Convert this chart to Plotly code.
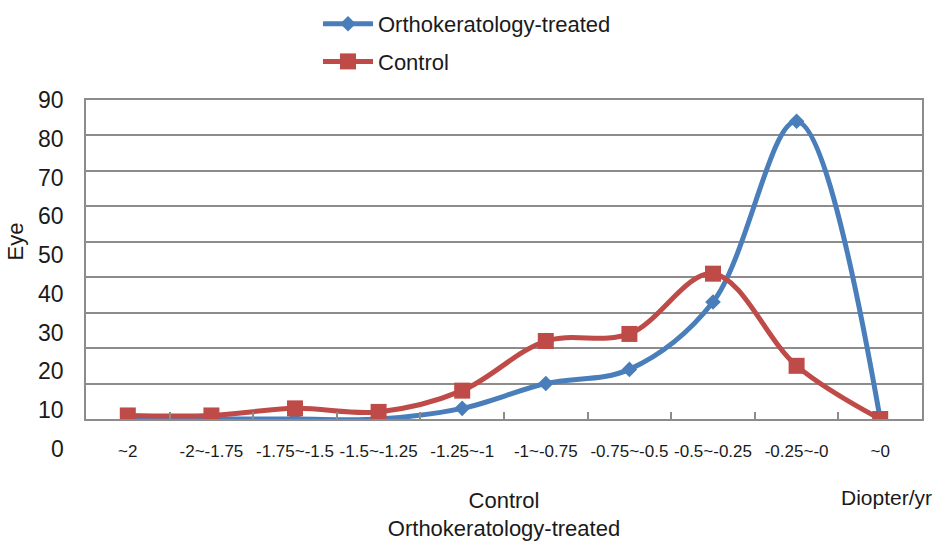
import plotly.graph_objects as go

categories = ["~2", "-2~-1.75", "-1.75~-1.5", "-1.5~-1.25", "-1.25~-1",
              "-1~-0.75", "-0.75~-0.5", "-0.5~-0.25", "-0.25~-0", "~0"]
ortho_values = [0, 0, 0, 0, 3, 10, 14, 33, 84, 0]
control_values = [1, 1, 3, 2, 8, 22, 24, 41, 15, 0]
y_tick_values = [0, 10, 20, 30, 40, 50, 60, 70, 80, 90]
y_tick_labels = ["0", "10", "20", "30", "40", "50", "60", "70", "80", "90"]

FONT = "Liberation Sans, Arial, sans-serif"
BLUE = "#4A7EBB"
RED = "#BE4B48"
GRID = "#8C8C8C"
TXT = "#1A1A1A"

W, H = 933, 550
ml, mr, mt, mb = 86, 11, 100, 101
plot_w = W - ml - mr
plot_h = H - mt - mb
data_bottom_px = 419
label_max = max(y_tick_values)

fig = go.Figure()
fig.add_trace(go.Scatter(
    x=categories, y=ortho_values, name="Orthokeratology-treated", legendgroup="a",
    mode="lines+markers", line=dict(color=BLUE, width=5, shape="spline", smoothing=1.0),
    marker=dict(symbol="diamond", size=12, color=BLUE)))
fig.add_trace(go.Scatter(
    x=categories, y=control_values, name="Control", legendgroup="b",
    mode="lines+markers", line=dict(color=RED, width=5, shape="spline", smoothing=1.0),
    marker=dict(symbol="square", size=16, color=RED)))

# y tick labels on their own (taller) scale spanning the full plot-area height
y_label_annotations = [
    dict(text=t, xref="paper", yref="paper", x=0, xshift=-20,
         y=v / label_max, xanchor="right", yanchor="middle", showarrow=False,
         font=dict(family=FONT, size=23, color=TXT))
    for v, t in zip(y_tick_values, y_tick_labels)
]

fig.update_layout(
    template="none",
    width=W, height=H,
    margin=dict(l=ml, r=mr, t=mt, b=mb, autoexpand=False),
    paper_bgcolor="white", plot_bgcolor="white",
    font=dict(family=FONT, color=TXT, size=20),
    showlegend=True,
    legend=dict(
        x=(318 - ml) / plot_w, xanchor="left",
        y=1 + (mt - 3) / plot_h, yanchor="top",
        font=dict(family=FONT, size=22, color=TXT),
        bgcolor="rgba(0,0,0,0)", itemwidth=50,
        traceorder="grouped", tracegroupgap=6,
    ),
    xaxis=dict(
        type="category", range=[-0.5, 9.5], anchor="y", automargin=False,
        showgrid=False, showline=True, mirror=True, linecolor=GRID, linewidth=2,
        ticks="inside", tickson="boundaries", ticklen=7, tickcolor=GRID, tickwidth=1.5,
        tickangle=0,
        tickfont=dict(family=FONT, size=17, color=TXT), ticklabelstandoff=16,
        title=dict(text="Control<br>Orthokeratology-treated",
                   font=dict(family=FONT, size=22, color=TXT), standoff=32),
    ),
    yaxis=dict(
        domain=[(H - mb - data_bottom_px) / plot_h, 1],
        range=[0, 90], dtick=10, anchor="x", automargin=False,
        showgrid=True, gridcolor=GRID, gridwidth=2,
        showline=True, mirror=True, linecolor=GRID, linewidth=2,
        zeroline=False, showticklabels=False, ticks="",
    ),
    annotations=y_label_annotations + [
        dict(text="Eye", textangle=-90, xref="paper", yref="paper",
             x=0, xshift=-ml, y=(H - mb - 242) / plot_h,
             xanchor="left", yanchor="middle", showarrow=False,
             font=dict(family=FONT, size=22, color=TXT)),
        dict(text="Diopter/yr", xref="paper", yref="paper",
             x=(886 - ml) / plot_w, y=(H - mb - 497) / plot_h,
             xanchor="center", yanchor="middle", showarrow=False,
             font=dict(family=FONT, size=21, color=TXT)),
    ],
)

fig.write_html("out.html",
               config={"displayModeBar": False},
               post_script="document.body.style.margin='0';document.body.style.overflow='hidden';")
